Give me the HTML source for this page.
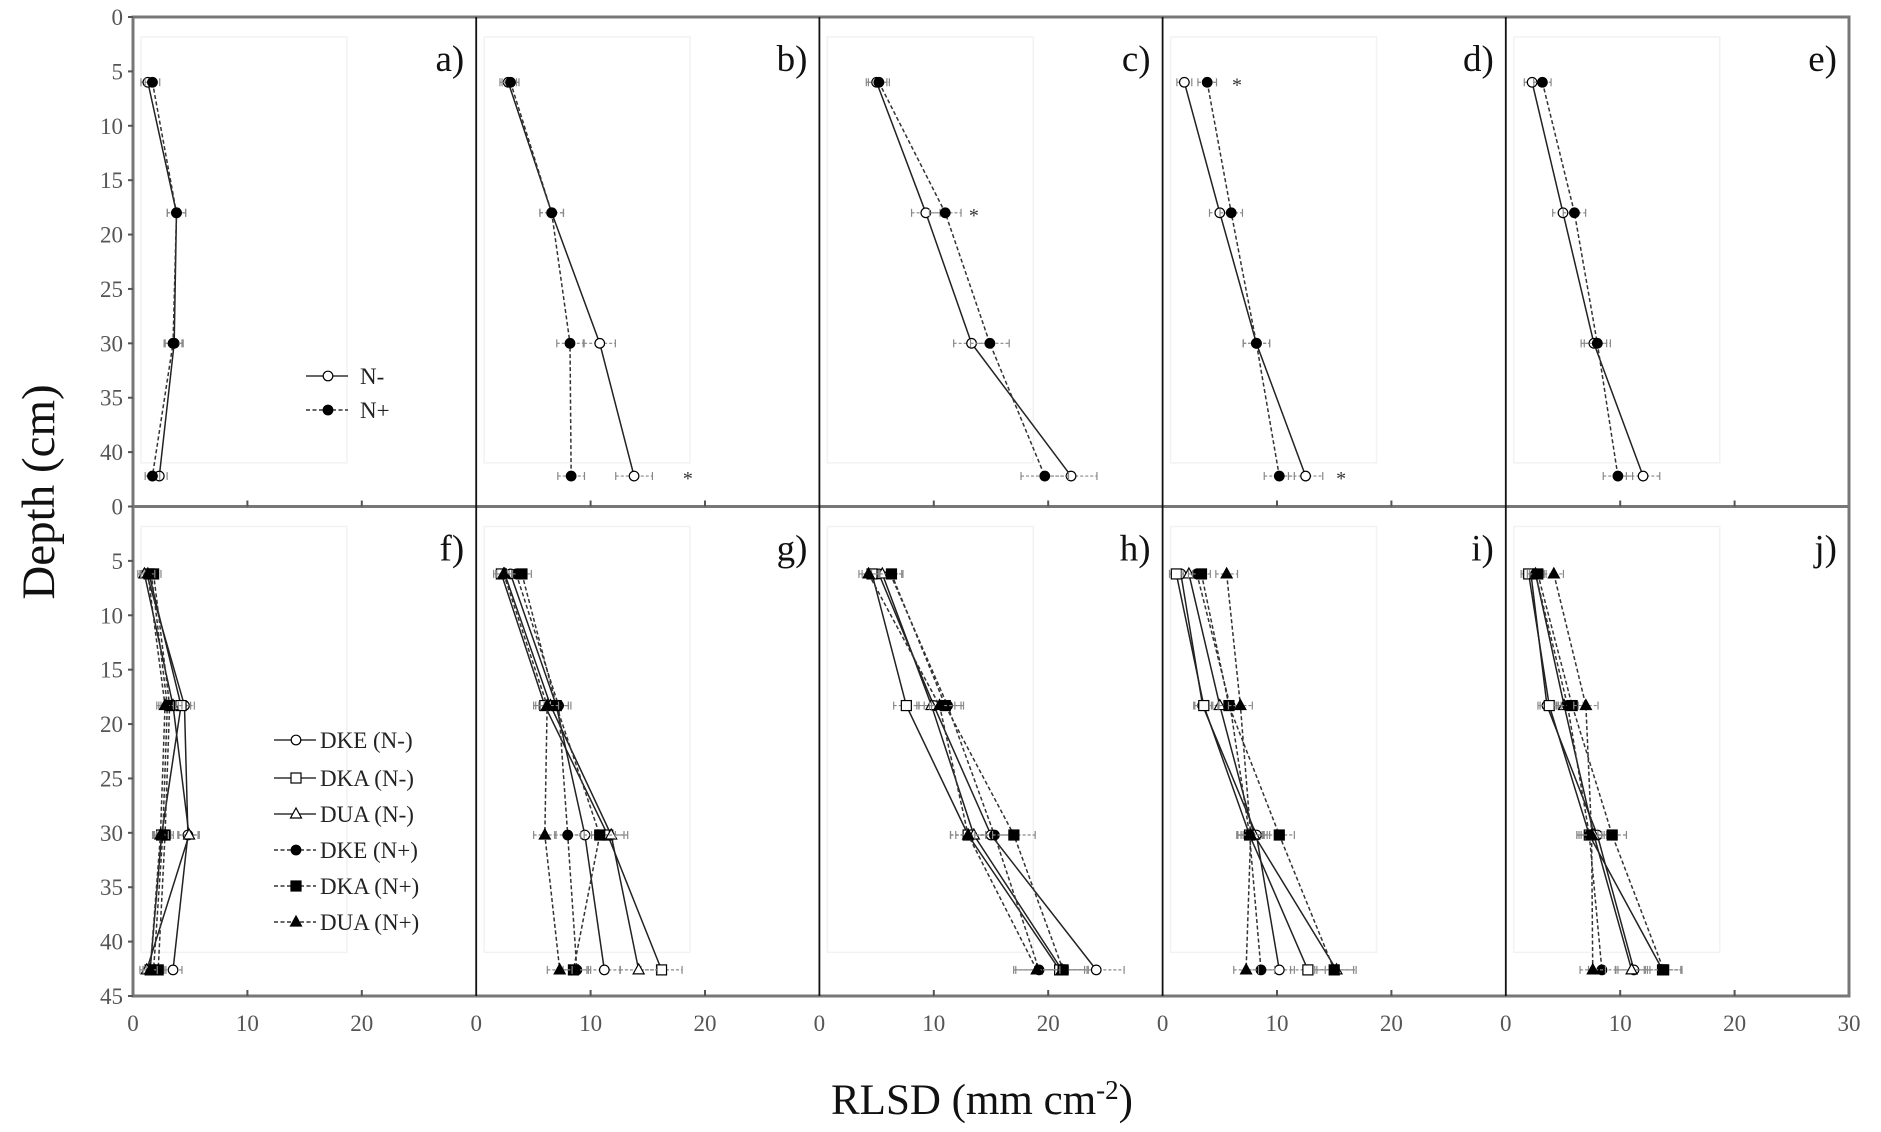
<!DOCTYPE html>
<html><head><meta charset="utf-8"><style>
html,body{margin:0;padding:0;background:#fff;}
svg{display:block;}
text{font-family:"Liberation Serif",serif;}
</style></head><body>
<svg id="s" width="1881" height="1132" viewBox="0 0 1881 1132" xmlns="http://www.w3.org/2000/svg"></svg>
<script>
(function(){
const S=document.getElementById('s');
const NS='http://www.w3.org/2000/svg';
function el(t,a,txt){const e=document.createElementNS(NS,t);for(const k in a)e.setAttribute(k,a[k]);if(txt!==undefined)e.textContent=txt;S.appendChild(e);return e;}
const X0=133,PW=343.2,XU=PW/30,Y0=17,PH=489.5,YU=PH/45;
function px(p,v){return X0+p*PW+v*XU;}
function py(r,d){return Y0+r*PH+d*YU;}
for(let r=0;r<2;r++)for(let p=0;p<5;p++){el('rect',{x:px(p,0)+8,y:py(r,0)+20,width:PW*0.6,height:PH*0.87,fill:'none',stroke:'#f2f2f2','stroke-width':1.5});}
function mk(x,y,type,fill){
  const f=fill?'#000':'#fff';
  if(type==='c')el('circle',{cx:x,cy:y,r:4.8,fill:f,stroke:'#000','stroke-width':1.2});
  else if(type==='s')el('rect',{x:x-5,y:y-5,width:10,height:10,fill:f,stroke:'#000','stroke-width':1.2});
  else el('polygon',{points:`${x},${y-6} ${x-5.5},${y+4} ${x+5.5},${y+4}`,fill:f,stroke:'#000','stroke-width':1.2});
}
function series(p,r,depths,vals,type,fill,dash){
  const pts=vals.map((v,i)=>[px(p,v),py(r,depths[i])]);
  pts.forEach((q,i)=>{const e=(0.5+vals[i]*0.08)*XU;
    el('line',{x1:q[0]-e,y1:q[1],x2:q[0]+e,y2:q[1],stroke:'#888','stroke-width':1.2,'stroke-dasharray':'3,2'});
    el('line',{x1:q[0]-e,y1:q[1]-4,x2:q[0]-e,y2:q[1]+4,stroke:'#888','stroke-width':1.2});
    el('line',{x1:q[0]+e,y1:q[1]-4,x2:q[0]+e,y2:q[1]+4,stroke:'#888','stroke-width':1.2});});
  el('polyline',{points:pts.map(q=>q.join(',')).join(' '),fill:'none',stroke:dash?'#333':'#222','stroke-width':1.5,'stroke-dasharray':dash?'4,2.5':'none'});
  pts.forEach(q=>mk(q[0],q[1],type,fill));
}
const DT=[6,18,30,42.2], DB=[6.2,18.3,30.2,42.6];
const topData=[
 [[1.3,3.8,3.6,2.3],[1.7,3.8,3.5,1.7]],
 [[2.8,6.6,10.8,13.8],[3.0,6.6,8.2,8.3]],
 [[5.0,9.3,13.3,22.0],[5.2,11.0,14.9,19.7]],
 [[1.9,5.0,8.2,12.5],[3.9,6.0,8.2,10.2]],
 [[2.3,5.0,7.7,12.0],[3.2,6.0,8.0,9.8]]];
topData.forEach((d,p)=>{series(p,0,DT,d[0],'c',false,false);series(p,0,DT,d[1],'c',true,true);});
const botData=[
 [[1.2,4.5,4.8,3.5],[1.4,4.2,2.5,1.5],[1.0,3.5,4.9,1.2],[1.6,3.0,2.6,1.8],[1.8,3.2,2.8,2.2],[1.3,2.8,2.4,1.5]],
 [[3.0,7.0,9.5,11.2],[2.2,6.0,11.5,16.2],[2.5,6.5,11.8,14.2],[3.5,7.2,8.0,8.8],[4.0,7.0,10.8,8.5],[2.4,6.2,6.0,7.3]],
 [[5.2,10.0,15.0,24.2],[4.6,7.6,13.0,21.0],[5.5,9.8,13.5,21.2],[6.2,11.2,15.3,19.2],[6.3,11.0,17.0,21.3],[4.3,10.5,13.0,19.0]],
 [[1.6,3.5,8.2,10.2],[1.2,3.6,7.6,12.7],[2.3,5.0,8.0,15.2],[3.0,5.9,7.6,8.6],[3.4,5.8,10.2,15.0],[5.6,6.8,7.7,7.3]],
 [[2.2,3.6,8.0,11.2],[2.0,3.8,7.3,13.7],[2.6,5.1,7.7,11.0],[2.6,5.4,7.3,8.4],[2.8,5.8,9.3,13.8],[4.2,7.0,7.5,7.6]]];
const types=['c','s','t','c','s','t'];
botData.forEach((d,p)=>d.forEach((v,k)=>series(p,1,DB,v,types[k],k>=3,k>=3)));
[[1,18.5,42.2],[2,13.5,18],[3,6.5,6],[3,15.6,42.2]].forEach(a=>el('text',{x:px(a[0],a[1]),y:py(0,a[2])+9,'font-size':20,'text-anchor':'middle',fill:'#333'},'*'));
el('rect',{x:X0,y:Y0,width:PW*5,height:PH*2,fill:'none',stroke:'#777','stroke-width':3});
el('line',{x1:X0,y1:Y0+PH,x2:X0+PW*5,y2:Y0+PH,stroke:'#777','stroke-width':3});
for(let p=1;p<5;p++)el('line',{x1:px(p,0),y1:Y0,x2:px(p,0),y2:Y0+2*PH,stroke:'#111','stroke-width':1.8});
for(let r=0;r<2;r++){for(let d=0;d<=45;d+=5){if(r===0&&d===45)continue;const y=py(r,d);
 el('line',{x1:X0-5,y1:y,x2:X0,y2:y,stroke:'#555','stroke-width':2});
 el('text',{x:X0-10,y:y+8,'font-size':23,'text-anchor':'end',fill:'#555'},String(d));}}
for(let p=0;p<5;p++){for(const v of [10,20]){const x=px(p,v);
 for(const yy of [Y0+PH,Y0+2*PH])el('line',{x1:x,y1:yy,x2:x,y2:yy-6,stroke:'#555','stroke-width':2});}
 const labs=p===4?[0,10,20,30]:[0,10,20];
 labs.forEach(v=>el('text',{x:px(p,v),y:1031,'font-size':23,'text-anchor':'middle',fill:'#555'},String(v)));}
'abcdefghij'.split('').forEach((c,i)=>{const p=i%5,r=Math.floor(i/5);
 el('text',{x:px(p,30)-12,y:py(r,0)+54,'font-size':37,'text-anchor':'end',fill:'#111'},c+')');});
function leg(x1,y,type,fill,dash,label,xt){el('line',{x1:x1,y1:y,x2:x1+42,y2:y,stroke:'#333','stroke-width':1.5,'stroke-dasharray':dash?'4,2.5':'none'});mk(x1+22,y,type,fill);
 el('text',{x:xt,y:y+8,'font-size':23,fill:'#222'},label);}
leg(306,376,'c',false,false,'N-',360);leg(306,410,'c',true,true,'N+',360);
const ln=['DKE (N-)','DKA (N-)','DUA (N-)','DKE (N+)','DKA (N+)','DUA (N+)'];
[740,778,814,850,886,922].forEach((y,k)=>leg(274,y,types[k],k>=3,k>=3,ln[k],320));
el('text',{x:54,y:492,'font-size':47,'text-anchor':'middle',fill:'#111',transform:'rotate(-90 54 492)'},'Depth (cm)');
const t=el('text',{x:982,y:1114,'font-size':43,'text-anchor':'middle',fill:'#111'});
const a1=document.createElementNS(NS,'tspan');a1.textContent='RLSD (mm cm';t.appendChild(a1);
const a2=document.createElementNS(NS,'tspan');a2.setAttribute('dy','-15');a2.setAttribute('font-size','27');a2.textContent='-2';t.appendChild(a2);
const a3=document.createElementNS(NS,'tspan');a3.setAttribute('dy','15');a3.textContent=')';t.appendChild(a3);
})();
</script>
</body></html>
